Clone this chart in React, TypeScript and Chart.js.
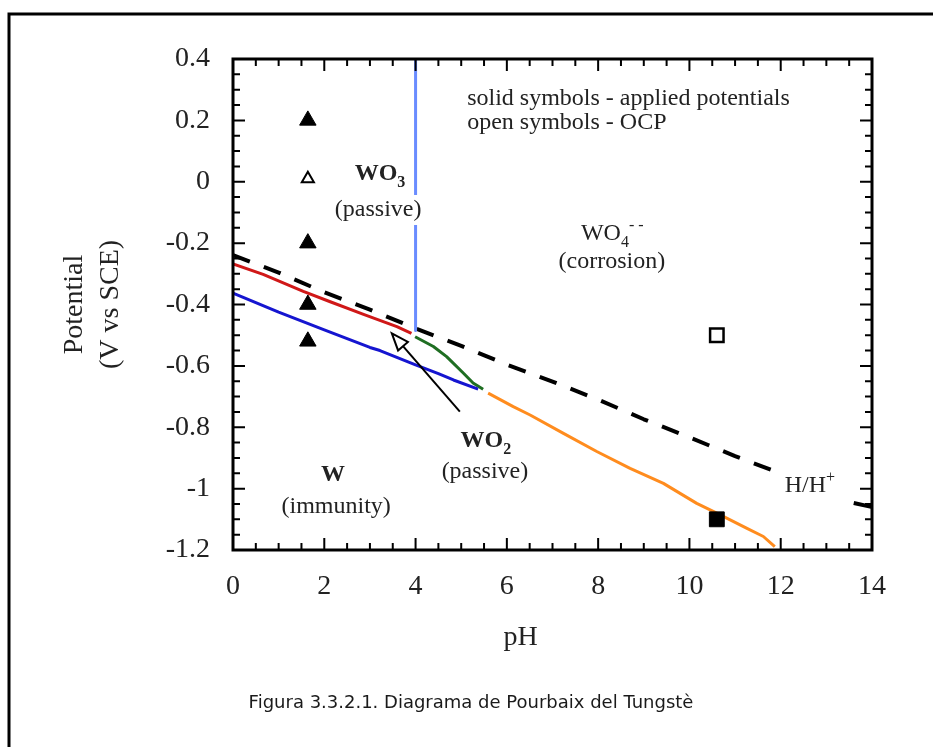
import React, { useEffect, useRef } from "react";
import { Chart, registerables } from "chart.js";

Chart.register(...registerables);

const W = 933;
const H = 747;

// axis ranges and labelled ticks
const phRange = [0, 14];
const potentialRange = [-1.2, 0.4];
const phTicks = [0, 2, 4, 6, 8, 10, 12, 14];
const potentialTicks = [0.4, 0.2, 0, -0.2, -0.4, -0.6, -0.8, -1, -1.2];

// boundary lines (pH, potential V vs SCE)
const wo3PH = [4, 4];
const wo3E = [0.4, -0.485];
const redPH = [0, 0.66, 1.54, 2.13, 2.86, 3.59, 3.91];
const redE = [-0.268, -0.302, -0.357, -0.391, -0.432, -0.472, -0.494];
const bluePH = [0, 1, 2, 3, 3.22, 4, 4.5, 4.83, 5.37];
const blueE = [-0.363, -0.425, -0.483, -0.54, -0.55, -0.597, -0.625, -0.646, -0.676];
const greenPH = [3.99, 4.39, 4.68, 5.05, 5.26, 5.48];
const greenE = [-0.505, -0.537, -0.57, -0.624, -0.656, -0.676];
const orangePH = [5.59, 6.14, 6.51, 7.24, 7.97, 8.7, 9.43, 10.16, 10.6, 11.25, 11.62, 11.87];
const orangeE = [-0.689, -0.733, -0.76, -0.82, -0.879, -0.934, -0.983, -1.048, -1.08, -1.129, -1.156, -1.189];
const hydrogenPH = [0, 1, 2, 3, 4, 5, 6, 7, 8, 9, 10, 11, 11.9, 12.7, 13.6, 14];
const hydrogenE = [-0.239, -0.296, -0.36, -0.417, -0.478, -0.535, -0.596, -0.651, -0.71, -0.774, -0.833, -0.894, -0.945, null, -1.047, -1.06];

// measurements
const appliedTriPH = [1.64, 1.64, 1.64, 1.64];
const appliedTriE = [0.2, -0.2, -0.4, -0.52];
const ocpTriPH = [1.64];
const ocpTriE = [0.01];
const ocpSquarePH = [10.6];
const ocpSquareE = [-0.5];
const appliedSquarePH = [10.6];
const appliedSquareE = [-1.1];

// arrow (tail, tip)
const arrowPH = [4.97, 3.48];
const arrowE = [-0.749, -0.494];

// species labels
const speciesName = ["WO", "WO", "WO", "W", "H/H"];
const speciesSub = ["3", "4", "2", "", ""];
const speciesSup = ["", "- -", "", "", "+"];
const speciesBold = [true, false, true, true, false];
const speciesPH = [3.22, 8.31, 5.54, 2.19, 12.64];
const speciesE = [0.032, -0.164, -0.838, -0.949, -0.985];

const regionText = ["(passive)", "(corrosion)", "(passive)", "(immunity)"];
const regionPH = [3.18, 8.3, 5.52, 2.26];
const regionE = [-0.092, -0.261, -0.946, -1.06];
const regionMasked = [true, false, false, false];

const notes = ["solid symbols - applied potentials", "open symbols - OCP"];
const notesPH = [5.13, 5.13];
const notesE = [0.27, 0.191];

const xTitle = "pH";
const yTitle = ["Potential", "(V vs SCE)"];
const caption = "Figura 3.3.2.1. Diagrama de Pourbaix del Tungstè";

const SERIF = '"Liberation Serif", "Times New Roman", serif';
const TEXT = "#222";

const pts = (xs: number[], ys: (number | null)[]) => xs.map((x, i) => ({ x, y: ys[i] }));

const near = (list: number[], v: number) => list.find((t) => Math.abs(t - v) < 1e-6);

const decorPlugin = {
  id: "decor",
  beforeDraw(chart: any) {
    const { ctx } = chart;
    ctx.save();
    ctx.fillStyle = "#fff";
    ctx.fillRect(0, 0, W, H);
    ctx.strokeStyle = "#000";
    ctx.lineWidth = 3;
    ctx.beginPath();
    ctx.moveTo(9, H);
    ctx.lineTo(9, 14);
    ctx.lineTo(W, 14);
    ctx.stroke();
    ctx.restore();
  },
  afterDatasetsDraw(chart: any) {
    const { ctx, scales } = chart;
    const xs = scales.x;
    const ys = scales.y;
    ctx.save();

    // arrow
    const tx = xs.getPixelForValue(arrowPH[0]);
    const ty = ys.getPixelForValue(arrowE[0]);
    const hx = xs.getPixelForValue(arrowPH[1]);
    const hy = ys.getPixelForValue(arrowE[1]);
    const len = Math.hypot(tx - hx, ty - hy);
    const ux = (tx - hx) / len;
    const uy = (ty - hy) / len;
    const L = 17;
    const hw = 6.5;
    const bx = hx + ux * L;
    const by = hy + uy * L;
    ctx.strokeStyle = "#000";
    ctx.lineWidth = 2;
    ctx.beginPath();
    ctx.moveTo(tx, ty);
    ctx.lineTo(bx, by);
    ctx.stroke();
    ctx.beginPath();
    ctx.moveTo(hx, hy);
    ctx.lineTo(bx - uy * hw, by + ux * hw);
    ctx.lineTo(bx + uy * hw, by - ux * hw);
    ctx.closePath();
    ctx.fillStyle = "#fff";
    ctx.fill();
    ctx.stroke();

    // region descriptions
    ctx.textBaseline = "middle";
    ctx.textAlign = "center";
    ctx.font = `24px ${SERIF}`;
    regionText.forEach((t, i) => {
      const cx = xs.getPixelForValue(regionPH[i]);
      const cy = ys.getPixelForValue(regionE[i]);
      if (regionMasked[i]) {
        const w = ctx.measureText(t).width;
        ctx.fillStyle = "#fff";
        ctx.fillRect(cx - w / 2 - 2, cy - 15, w + 4, 30);
      }
      ctx.fillStyle = TEXT;
      ctx.fillText(t, cx, cy);
    });

    // species names with sub/superscripts
    ctx.textAlign = "left";
    ctx.textBaseline = "alphabetic";
    speciesName.forEach((name, i) => {
      const b = speciesBold[i] ? "bold " : "";
      const mainFont = `${b}24px ${SERIF}`;
      const smallFont = `${b}16px ${SERIF}`;
      ctx.font = mainFont;
      const w1 = ctx.measureText(name).width;
      ctx.font = smallFont;
      const w2 = speciesSub[i] ? ctx.measureText(speciesSub[i]).width : 0;
      const w3 = speciesSup[i] ? ctx.measureText(speciesSup[i]).width : 0;
      const total = w1 + w2 + w3;
      const cx = xs.getPixelForValue(speciesPH[i]);
      const cy = ys.getPixelForValue(speciesE[i]);
      const base = cy + 8;
      let x0 = cx - total / 2;
      ctx.fillStyle = TEXT;
      ctx.font = mainFont;
      ctx.fillText(name, x0, base);
      x0 += w1;
      ctx.font = smallFont;
      if (speciesSub[i]) {
        ctx.fillText(speciesSub[i], x0, base + 7);
        x0 += w2;
      }
      if (speciesSup[i]) {
        ctx.fillText(speciesSup[i], x0, base - 10);
      }
    });

    // notes
    ctx.font = `24px ${SERIF}`;
    ctx.textBaseline = "middle";
    ctx.textAlign = "left";
    ctx.fillStyle = TEXT;
    notes.forEach((t, i) => {
      ctx.fillText(t, xs.getPixelForValue(notesPH[i]), ys.getPixelForValue(notesE[i]));
    });
    ctx.restore();
  },
  afterDraw(chart: any) {
    const { ctx, chartArea: a, scales } = chart;
    const xs = scales.x;
    const ys = scales.y;
    ctx.save();
    ctx.strokeStyle = "#000";
    ctx.lineWidth = 2;
    ctx.beginPath();
    for (const t of xs.ticks) {
      const px = xs.getPixelForValue(t.value);
      const l = near(phTicks, t.value) !== undefined ? 12 : 7;
      ctx.moveTo(px, a.bottom);
      ctx.lineTo(px, a.bottom - l);
      ctx.moveTo(px, a.top);
      ctx.lineTo(px, a.top + l);
    }
    for (const t of ys.ticks) {
      const py = ys.getPixelForValue(t.value);
      const l = near(potentialTicks, t.value) !== undefined ? 12 : 7;
      ctx.moveTo(a.left, py);
      ctx.lineTo(a.left + l, py);
      ctx.moveTo(a.right, py);
      ctx.lineTo(a.right - l, py);
    }
    ctx.stroke();
    ctx.lineWidth = 3;
    ctx.strokeRect(a.left, a.top, a.right - a.left, a.bottom - a.top);

    // x title
    ctx.fillStyle = TEXT;
    ctx.font = `28px ${SERIF}`;
    ctx.textAlign = "center";
    ctx.textBaseline = "middle";
    ctx.fillText(xTitle, xs.getPixelForValue(6.3), 638);

    // caption
    ctx.fillStyle = "#1a1a1a";
    ctx.font = `18px "DejaVu Sans", Verdana, sans-serif`;
    ctx.fillText(caption, 471, 703);
    ctx.restore();
  },
};

export default function App() {
  const ref = useRef<HTMLCanvasElement>(null);

  useEffect(() => {
    const canvas = ref.current;
    if (!canvas) return;
    const line = (label: string, xs: number[], ys: (number | null)[], color: string, width: number, dash: number[] = []) => ({
      label,
      data: pts(xs, ys),
      showLine: true,
      borderColor: color,
      backgroundColor: color,
      borderWidth: width,
      borderDash: dash,
      pointRadius: 0,
      pointHoverRadius: 0,
      spanGaps: false,
      tension: 0,
      borderJoinStyle: "round",
    });

    const chart = new Chart(canvas, {
      type: "scatter",
      data: {
        datasets: [
          {
            label: "applied (triangles)",
            data: pts(appliedTriPH, appliedTriE),
            pointStyle: "triangle",
            pointRadius: 9.5,
            backgroundColor: "#000",
            borderColor: "#000",
            borderWidth: 1,
          },
          {
            label: "OCP (triangle)",
            data: pts(ocpTriPH, ocpTriE),
            pointStyle: "triangle",
            pointRadius: 7,
            backgroundColor: "#fff",
            borderColor: "#000",
            borderWidth: 2,
          },
          {
            label: "OCP (square)",
            data: pts(ocpSquarePH, ocpSquareE),
            pointStyle: "rect",
            pointRadius: 9.5,
            backgroundColor: "#fff",
            borderColor: "#000",
            borderWidth: 2.5,
          },
          {
            label: "applied (square)",
            data: pts(appliedSquarePH, appliedSquareE),
            pointStyle: "rect",
            pointRadius: 10.5,
            backgroundColor: "#000",
            borderColor: "#000",
            borderWidth: 1,
          },
          line("WO3/WO4", wo3PH, wo3E, "#6a8cff", 3),
          line("WO3/WO2", redPH, redE, "#d01818", 3),
          line("WO2/W", bluePH, blueE, "#1515d0", 3),
          line("WO2/WO4", greenPH, greenE, "#1f6e22", 3),
          line("W/WO4", orangePH, orangeE, "#ff8c1e", 3),
          line("H/H+", hydrogenPH, hydrogenE, "#000", 4, [18, 15]),
        ] as any,
      },
      options: {
        responsive: false,
        animation: false,
        events: [],
        layout: { padding: { left: 0, top: 59, right: 61, bottom: 0 } },
        plugins: { legend: { display: false }, tooltip: { enabled: false } },
        scales: {
          x: {
            type: "linear",
            position: "bottom",
            min: phRange[0],
            max: phRange[1],
            grid: { display: false, drawTicks: false },
            border: { display: false },
            ticks: {
              stepSize: 0.5,
              autoSkip: false,
              maxRotation: 0,
              padding: 20,
              color: TEXT,
              font: { family: SERIF, size: 28 },
              callback: (v: any) => {
                const hit = near(phTicks, Number(v));
                return hit === undefined ? "" : String(hit);
              },
            },
            afterFit: (s: any) => {
              s.height = 197;
            },
          },
          y: {
            type: "linear",
            position: "left",
            min: potentialRange[0],
            max: potentialRange[1],
            grid: { display: false, drawTicks: false },
            border: { display: false },
            title: {
              display: true,
              text: yTitle,
              color: TEXT,
              font: { family: SERIF, size: 28, lineHeight: "36px" },
              padding: { top: 57, bottom: 0 },
            },
            ticks: {
              stepSize: 0.05,
              autoSkip: false,
              padding: 23,
              color: TEXT,
              font: { family: SERIF, size: 28 },
              callback: (v: any) => {
                const hit = near(potentialTicks, Number(v));
                return hit === undefined ? "" : String(hit);
              },
            },
            afterFit: (s: any) => {
              s.width = 233;
            },
          },
        },
      } as any,
      plugins: [decorPlugin],
    });
    return () => chart.destroy();
  }, []);

  return (
    <div style={{ position: "fixed", left: 0, top: 0, width: W, height: H, overflow: "hidden" }}>
      <canvas ref={ref} width={W} height={H} style={{ display: "block" }} />
    </div>
  );
}
